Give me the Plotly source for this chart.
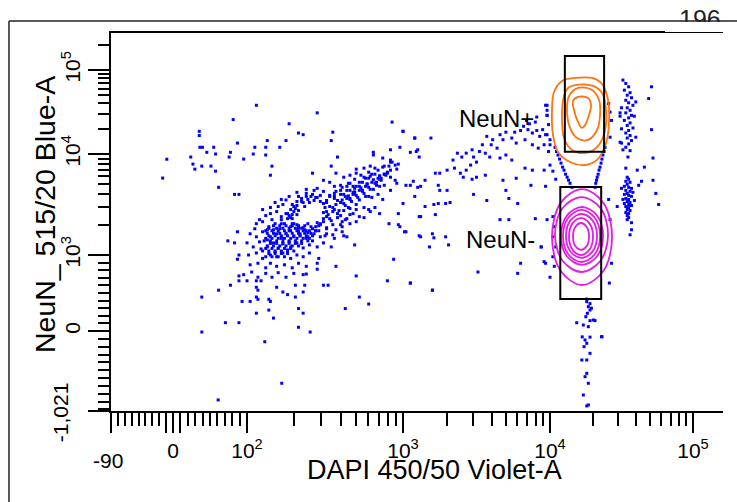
import numpy as np
import plotly.graph_objects as go

# ---------------- data (DAPI, NeuN) as log10 intensity pairs ----------------
sparse_upper = [(2.06,4.58),(2.45,4.49),(1.91,4.41),(2.27,4.36),(2.93,4.38),(1.55,4.27),(1.55,4.22),(2.36,4.23),
    (2.33,4.25),(2.55,4.26),(3.00,4.27),(1.94,4.13),(2.13,4.16),(2.25,4.16),(2.54,4.16),(3.08,4.19),(1.56,4.08),
    (1.60,4.08),(1.74,4.08),(2.05,4.08),(2.12,4.08),(2.21,4.08),(1.66,4.02),(1.76,4.00),(1.89,4.02),(1.88,3.97),
    (2.04,4.00),(2.12,3.99),(1.98,3.95),(1.38,3.97),(1.43,3.90),(1.47,3.85),(1.59,3.88),(1.71,3.88),(1.76,3.83),
    (2.16,3.88),(2.58,3.97),(2.81,4.02),(2.15,3.79),(2.42,3.81),(2.54,3.88),(1.79,3.67),(1.92,3.60),(1.95,3.60),
    (2.92,4.05),(2.98,4.08),(3.05,4.02),(3.10,4.05),(3.11,3.97),(3.05,3.69),(3.10,3.67),(3.08,3.58),(3.00,3.51),
    (2.97,3.41),(3.11,3.38),(2.91,3.31),(2.97,3.30),(3.01,3.23),(3.11,3.19),(2.94,2.975),(2.90,2.82),(3.05,2.80)]

sparse_lower = [(1.94,3.23),(1.87,3.14),(1.92,3.12),(1.95,3.00),(1.94,2.975),(1.79,2.73),(1.89,2.78),(1.59,2.65),
    (1.85,2.04),(1.95,2.04),(2.06,2.37),(2.17,2.23),(2.14,2.44),(2.33,2.47),(2.33,1.69),(2.36,2.37),(2.63,2.47),
    (2.78,2.55),(2.72,2.65),(2.70,2.86),(2.49,2.78),(2.52,2.78),(2.31,2.65),(2.26,2.68),(2.23,2.71),(2.36,2.71),
    (2.31,2.78),(2.37,2.78),(2.19,2.76),(2.14,2.62),(2.15,2.59),(2.06,2.65),(2.07,2.62),(2.02,2.59),(1.97,2.59),
    (2.07,2.73),(2.06,2.76),(2.00,2.82),(1.95,2.82),(1.95,2.86),(2.06,2.82),(2.09,2.82),(2.38,2.875),(2.45,2.91),
    (2.57,2.93),(2.69,3.10),(2.64,3.18),(2.61,3.23),(2.70,3.33),(2.75,3.37),(2.79,3.43),(2.82,3.47),(2.85,3.41),
    (2.87,3.55),(2.78,3.58),(3.20,2.73)]

main_cluster = [(2.81,3.99),(2.87,3.96),(2.92,3.94),(2.93,3.92),(2.97,3.90),
    (2.70,3.85),(2.75,3.86),(2.79,3.88),(2.87,3.87),(2.91,3.88),(2.96,3.85),
    (2.57,3.81),(2.62,3.77),(2.66,3.79),(2.70,3.81),(2.75,3.77),(2.79,3.78),(2.85,3.75),(2.90,3.81),(2.92,3.77),(2.95,3.74),
    (2.49,3.74),(2.53,3.72),(2.56,3.68),(2.60,3.69),(2.64,3.68),(2.66,3.71),(2.69,3.66),(2.72,3.68),(2.77,3.70),
    (2.81,3.65),(2.85,3.68),(2.88,3.69),(2.92,3.64),(2.96,3.71),
    (2.38,3.61),(2.43,3.64),(2.47,3.59),(2.49,3.63),(2.53,3.58),(2.56,3.61),(2.60,3.64),(2.63,3.58),(2.66,3.56),
    (2.69,3.61),(2.72,3.545),(2.76,3.58),(2.80,3.57),(2.84,3.60),
    (2.25,3.545),(2.29,3.50),(2.32,3.53),(2.35,3.56),(2.49,3.51),(2.53,3.48),(2.57,3.50),(2.62,3.51),(2.66,3.46),
    (2.70,3.50),(2.75,3.47),(2.78,3.45),
    (2.10,3.45),(2.15,3.41),(2.19,3.43),(2.22,3.38),(2.25,3.41),(2.29,3.36),(2.32,3.40),(2.49,3.42),(2.51,3.38),
    (2.55,3.43),(2.60,3.39),(2.64,3.36),(2.68,3.41),(2.72,3.38),
    (2.06,3.31),(2.10,3.33),(2.14,3.28),(2.18,3.31),(2.21,3.26),(2.24,3.31),(2.28,3.28),(2.32,3.30),(2.36,3.27),
    (2.39,3.31),(2.44,3.28),(2.47,3.31),(2.51,3.26),(2.55,3.30),(2.61,3.28),(2.66,3.31),
    (2.02,3.21),(2.06,3.18),(2.10,3.23),(2.15,3.18),(2.19,3.21),(2.22,3.165),(2.25,3.21),(2.30,3.18),(2.34,3.21),
    (2.38,3.165),(2.43,3.21),(2.47,3.18),(2.51,3.21),(2.56,3.165),(2.62,3.19),
    (2.00,3.12),(2.04,3.08),(2.08,3.13),(2.13,3.08),(2.17,3.12),(2.20,3.07),(2.23,3.11),(2.28,3.08),(2.32,3.12),
    (2.36,3.07),(2.40,3.10),(2.45,3.08),(2.49,3.12),(2.54,3.08),
    (2.01,3.00),(2.06,3.02),(2.10,2.98),(2.15,3.00),(2.19,2.99),(2.23,3.02),(2.28,2.98),(2.32,3.00),(2.36,2.99),
    (2.40,3.02),(2.46,2.98),
    (2.02,2.94),(2.07,2.95),(2.12,2.92),(2.15,2.95),(2.19,2.93),(2.24,2.94),(2.29,2.92),(2.33,2.95),(2.38,2.93),(2.45,2.95),
    (1.98,2.87),(2.03,2.89),(2.07,2.85),(2.12,2.88),(2.16,2.85),(2.20,2.885),(2.25,2.85),(2.30,2.88),(2.36,2.87),
    (2.30,3.48),(2.33,3.58),(2.38,3.58),(2.45,3.57),(2.51,3.54),(2.55,3.47),(2.54,3.34),(2.51,3.27),(2.46,3.24),
    (2.39,3.22),(2.33,3.24),(2.29,3.31),(2.27,3.39),(2.28,3.45),
    (2.23,3.50),(2.20,3.48),(2.16,3.35),(2.13,3.25),(2.17,3.25),(2.13,3.15),(2.09,3.06),(2.18,3.03),(2.27,3.13),
    (2.42,3.60),(2.58,3.54),(2.68,3.62),(2.74,3.64),(2.83,3.72),(2.88,3.80),(2.59,3.44),(2.61,3.33),(2.42,3.14),(2.26,3.05)]

# denser core of the main population (lower-left lobe, ring round the hollow, upper-right arm)
main_core = [(2.17,3.29),(2.21,3.29),(2.25,3.29),(2.29,3.29),(2.33,3.29),(2.37,3.29),
    (2.12,3.24),(2.16,3.24),(2.20,3.24),(2.24,3.24),(2.28,3.24),(2.32,3.24),(2.36,3.24),(2.40,3.24),(2.44,3.24),
    (2.14,3.19),(2.18,3.19),(2.22,3.19),(2.26,3.19),(2.30,3.19),(2.34,3.19),(2.38,3.19),(2.42,3.19),
    (2.11,3.14),(2.15,3.14),(2.19,3.14),(2.23,3.14),(2.27,3.14),(2.31,3.14),(2.35,3.14),(2.39,3.14),
    (2.13,3.09),(2.17,3.09),(2.21,3.09),(2.25,3.09),(2.29,3.09),(2.33,3.09),
    (2.10,3.04),(2.14,3.04),(2.18,3.04),(2.22,3.04),(2.26,3.04),(2.30,3.04),
    (2.12,2.99),(2.16,2.99),(2.20,2.99),(2.24,2.99),
    (2.51,3.52),(2.27,3.24),(2.33,3.44),(2.45,3.32),(2.40,3.52),(2.52,3.40),(2.26,3.36),(2.38,3.24),
    (2.37,3.48),(2.49,3.36),(2.29,3.40),(2.41,3.28),(2.44,3.57),(2.56,3.45),(2.22,3.31),(2.34,3.19),
    (2.56,3.58),(2.22,3.18),(2.31,3.46),(2.47,3.30),(2.41,3.58),(2.58,3.41),(2.22,3.35),(2.39,3.18),
    (2.36,3.52),(2.53,3.36),(2.26,3.41),(2.44,3.24),
    (2.63,3.49),(2.60,3.52),(2.56,3.56),(2.53,3.59),(2.67,3.53),(2.64,3.56),(2.60,3.60),(2.57,3.63),
    (2.71,3.57),(2.68,3.60),(2.64,3.64),(2.61,3.67),(2.75,3.61),(2.72,3.64),(2.68,3.68),(2.65,3.71),
    (2.79,3.65),(2.76,3.68),(2.72,3.72),(2.69,3.75),(2.83,3.69),(2.80,3.72),(2.76,3.76),(2.73,3.79),
    (2.86,3.74),(2.84,3.76),(2.80,3.80),(2.78,3.82),(2.89,3.79),(2.88,3.80),(2.84,3.84),(2.82,3.86),
    (2.92,3.84),(2.88,3.88),(2.95,3.89),(2.92,3.92),
    (2.57,3.25),(2.60,3.30),(2.63,3.35),(2.66,3.40),(2.62,3.44),(2.58,3.37),(2.65,3.47),(2.70,3.45),(2.55,3.20),(2.50,3.19),
    (2.15,3.47),(2.18,3.52),(2.22,3.55),(2.27,3.58),(2.32,3.62),(2.38,3.65),(2.45,3.66),(2.12,3.39),(2.08,3.35),(2.05,3.26),
    (2.14,3.265),(2.19,3.265),(2.23,3.265),(2.27,3.265),(2.31,3.265),(2.35,3.265),
    (2.13,3.215),(2.17,3.215),(2.21,3.215),(2.25,3.215),(2.29,3.215),(2.33,3.215),(2.37,3.215),(2.41,3.215),
    (2.12,3.165),(2.16,3.165),(2.20,3.165),(2.24,3.165),(2.28,3.165),(2.32,3.165),(2.36,3.165),(2.40,3.165),
    (2.15,3.115),(2.19,3.115),(2.23,3.115),(2.27,3.115),(2.31,3.115),(2.35,3.115),
    (2.12,3.065),(2.16,3.065),(2.20,3.065),(2.24,3.065),(2.28,3.065),
    (2.14,3.015),(2.18,3.015),(2.22,3.015),(2.26,3.015),
    (2.61,3.545),(2.65,3.585),(2.69,3.625),(2.73,3.665),(2.77,3.705),(2.81,3.745),(2.85,3.785),(2.62,3.60),
    (2.66,3.64),(2.70,3.68),(2.74,3.72),(2.78,3.76),(2.82,3.80),(2.66,3.55),(2.70,3.59),(2.74,3.63),(2.78,3.67),
    (2.82,3.71),(2.86,3.76),(2.90,3.82),
    (2.30,3.43),(2.32,3.49),(2.35,3.53),(2.39,3.55),(2.43,3.54),(2.47,3.53),(2.50,3.47),(2.51,3.43),(2.49,3.33),
    (2.46,3.29),(2.42,3.26),(2.37,3.25),(2.33,3.27),(2.30,3.31),(2.28,3.37)]

bridge = [(3.98,4.58),(3.98,4.52),(3.98,4.46),(3.91,4.44),(3.90,4.38),(3.84,4.40),(3.86,4.36),(3.82,4.33),(3.85,4.29),
    (3.88,4.25),(3.80,4.28),(3.76,4.26),(3.91,4.28),(3.95,4.29),(3.93,4.21),(3.98,4.23),(4.00,4.17),(3.66,4.23),
    (3.70,4.26),(3.68,4.17),(3.74,4.19),(3.77,4.13),(3.83,4.17),(3.88,4.11),(3.92,4.07),(3.96,4.11),(3.99,4.03),
    (3.61,4.17),(3.57,4.21),(3.60,4.11),(3.64,4.07),(3.54,4.11),(3.52,4.03),(3.56,4.01),(3.59,3.97),(3.66,3.96),
    (3.70,3.99),(3.74,3.94),(3.47,4.05),(3.48,3.97),(3.50,3.92),(3.46,3.89),(3.43,4.01),(3.40,3.97),(3.37,4.01),
    (3.34,3.94),(3.35,3.86),(3.39,3.81),(3.41,3.77),(3.43,3.84),(3.47,3.75),(3.50,3.77),(3.56,3.79),(3.30,3.84),
    (3.25,3.81),(3.22,3.81),(3.15,3.74),(3.12,3.68),(3.07,3.73),(3.02,3.69),(3.24,3.69),(3.25,3.64),(3.30,3.64),
    (3.15,3.48),(3.21,3.50),(3.24,3.51),(3.29,3.51),(3.32,3.52),(3.22,3.40),(3.12,3.38),(3.20,3.21),(3.21,3.17),
    (3.29,3.18),(3.12,3.18),(3.02,3.23),(3.31,3.10),(3.18,3.08),(2.98,3.28),(3.08,4.19),(3.19,4.19),(3.00,4.27),
    (3.09,4.03),(3.68,3.74),(3.77,3.76),(3.83,3.86),(3.88,3.84),(3.96,3.84),(4.02,3.83),(4.00,3.89),(3.70,3.64),
    (3.87,3.69),(3.97,3.68),(4.04,3.75),(3.48,3.60),(3.57,3.54),(3.72,3.56),(3.78,3.51),(3.66,3.35),(3.72,3.35),
    (3.90,3.36),(3.98,3.35),(3.94,3.08),(3.80,2.95),(3.78,2.88),(3.96,2.96),(4.03,2.93),(3.51,2.89),(3.05,2.80),
    (3.20,2.73),(4.02,3.38),(4.03,3.28),(4.02,3.18),(4.04,3.08),(4.02,2.99),
    (4.035,4.08),(4.045,4.03),(4.056,3.99),(4.067,3.95),(4.077,3.91),(4.088,3.87),(4.098,3.84),(4.109,3.80),
    (4.12,3.77),(4.13,3.74),(4.14,3.71),(4.154,3.67),
    (4.385,4.08),(4.378,4.03),(4.37,3.99),(4.363,3.95),(4.357,3.91),(4.35,3.87),(4.343,3.84),(4.337,3.80),
    (4.33,3.77),(4.325,3.74),(4.32,3.71),(4.315,3.67),
    (3.97,4.58),(3.98,4.46),(3.99,4.35),(3.97,4.23),(4.00,4.11),(4.41,4.60),(4.42,4.50),(4.43,4.40),(4.42,4.20),
    (3.94,3.08),(3.97,2.95),(4.00,2.85),(4.41,3.55),(4.42,3.35),(4.43,2.95),(4.415,2.80)]

right_column = [(4.51,4.88),(4.53,4.84),(4.55,4.80),(4.52,4.76),(4.56,4.73),(4.54,4.70),(4.57,4.67),(4.53,4.64),
    (4.55,4.61),(4.58,4.58),(4.54,4.55),(4.56,4.52),(4.53,4.49),(4.57,4.46),(4.55,4.43),(4.52,4.40),(4.56,4.37),
    (4.54,4.34),(4.58,4.31),(4.55,4.28),(4.53,4.25),(4.56,4.22),(4.54,4.19),(4.57,4.16),(4.55,4.12),(4.53,4.08),
    (4.56,4.04),(4.60,4.62),(4.50,4.55),(4.59,4.45),(4.50,4.30),(4.60,4.20),(4.49,4.14),
    (4.71,4.80),(4.69,4.66),(4.71,4.29),(4.72,3.96),(4.66,3.87),(4.72,3.74),(4.74,3.61),(4.76,3.50),(4.64,3.73),
    (4.62,3.69),(4.47,3.48),(4.49,4.49),(4.49,4.45),(4.50,4.13),(4.51,4.05),(4.545,3.97),(4.61,3.84),(4.53,3.86),
    (4.57,3.25),(4.56,3.20),(4.57,3.32),
    (4.54,3.77),(4.55,3.75),(4.53,3.73),(4.56,3.72),(4.54,3.70),(4.52,3.68),(4.55,3.67),(4.57,3.66),(4.53,3.64),
    (4.56,3.63),(4.54,3.61),(4.52,3.60),(4.55,3.59),(4.57,3.58),(4.53,3.56),(4.55,3.55),(4.54,3.53),(4.56,3.52),
    (4.52,3.51),(4.55,3.50),(4.57,3.49),(4.53,3.48),(4.55,3.47),(4.54,3.45),(4.56,3.44),(4.53,3.42),(4.55,3.41),
    (4.54,3.39),(4.55,3.37),(4.54,3.35),(4.51,3.55),(4.58,3.62),(4.50,3.66),(4.59,3.54)]

# events near / below zero, raw intensity (DAPI, NeuN)
raw_events = [(-9,8870),(-15,5780),(39,-13),(254,-13),(130,-137),(167,-667),(61,-880),
    (18070,386),(18540,320),(19050,276),(18240,233),(17800,188),(15380,109),(17100,79),(18540,57),(19050,136),
    (20090,145),(22900,-73),(17580,-115),(18070,-157),(16800,-75),(19050,-78),(17300,-200),(19050,-285),
    (16700,-370),(18070,-370),(18070,-540),(17580,-583),(18540,-667),(17100,-817),(18540,-944),(18070,-956),
    (18070,420),(19050,360),(19500,300),(23100,-73),(20650,137)]

# contour rings (log10 DAPI, log10 NeuN)
neun_pos_contours = [
    ([4.175,4.294,4.364,4.406,4.413,4.392,4.329,4.245,4.140,4.056,4.021,4.014,4.028,4.084],
     [4.905,4.905,4.833,4.643,4.381,4.131,3.941,3.891,3.921,4.024,4.226,4.524,4.738,4.869]),
    ([4.175,4.301,4.364,4.392,4.385,4.336,4.245,4.154,4.098,4.084,4.098,4.126],
     [4.821,4.810,4.726,4.524,4.286,4.095,4.012,4.048,4.190,4.464,4.690,4.786]),
    ([4.196,4.294,4.343,4.350,4.329,4.266,4.189,4.140,4.119,4.133],
     [4.786,4.762,4.643,4.464,4.286,4.167,4.190,4.310,4.524,4.690]),
    ([4.196,4.266,4.287,4.273,4.245,4.224,4.196,4.168,4.161],
     [4.679,4.667,4.583,4.464,4.345,4.310,4.381,4.524,4.631]),
]
neun_neg_contours = [
    ([4.224,4.373,4.434,4.373,4.224,4.075,4.014,4.075],[3.653,3.516,3.178,2.897,2.782,2.897,3.178,3.516]),
    ([4.220,4.352,4.406,4.352,4.220,4.089,4.035,4.089],[3.574,3.466,3.203,2.964,2.890,2.964,3.203,3.466]),
    ([4.224,4.328,4.371,4.328,4.224,4.120,4.077,4.120],[3.475,3.392,3.188,2.991,2.939,2.991,3.188,3.392]),
    ([4.220,4.312,4.350,4.312,4.220,4.129,4.091,4.129],[3.446,3.371,3.188,3.005,2.958,3.005,3.188,3.371]),
    ([4.220,4.297,4.329,4.297,4.220,4.143,4.112,4.143],[3.406,3.343,3.188,3.034,2.983,3.034,3.188,3.343]),
    ([4.217,4.276,4.301,4.276,4.217,4.157,4.133,4.157],[3.366,3.313,3.183,3.053,3.000,3.053,3.183,3.313]),
    ([4.217,4.257,4.273,4.257,4.217,4.177,4.161,4.177],[3.317,3.278,3.183,3.088,3.050,3.088,3.183,3.278]),
]

# gates (raw intensity)
gate_neun_pos = dict(x0=12700, x1=23900, y0=10600, y1=147000)
gate_neun_neg = dict(x0=11800, x1=22800, y0=420, y1=4700)
gate_labels = [("NeuN+", 4350, 26800), ("NeuN-", 4640, 1440)]

x_major = [-90, -10, 0, 10, 100, 1000, 10000, 100000]
x_major_text = ["", "", "0", "", "10<sup>2</sup>", "10<sup>3</sup>", "10<sup>4</sup>", "10<sup>5</sup>"]
x_minor = ([-80, -70, -60, -50, -40, -30, -20] + [20, 30, 40, 50, 60, 70, 80, 90]
           + [200, 300, 400, 500, 600, 700, 800, 900]
           + [2000, 3000, 4000, 5000, 6000, 7000, 8000, 9000]
           + [20000, 30000, 40000, 50000, 60000, 70000, 80000, 90000])
y_major = [-1021, 0, 1000, 10000, 100000]
y_major_text = ["", "0", "10<sup>3</sup>", "10<sup>4</sup>", "10<sup>5</sup>"]
y_minor = ([-1000, -900, -800, -700, -600, -500, -400, -300, -200, -100]
           + [100, 200, 300, 400, 500, 600, 700, 800, 900]
           + [2000, 3000, 4000, 5000, 6000, 7000, 8000, 9000]
           + [20000, 30000, 40000, 50000, 60000, 70000, 80000, 90000, 200000])

# ---------------- biexponential-style display scales ----------------
X_LIN_V, X_LIN_D = [-90, 0, 100], [0, 62, 136]
X_LOG_V, X_LOG_D = [2, 3, 4, 5, 5.5], [136, 292, 439, 582, 653.5]
Y_LIN_V, Y_LIN_D = [-1021, 0, 1000], [0, 80, 156]
Y_LOG_V, Y_LOG_D = [3, 4, 5, 5.5], [156, 257, 341, 383]
X_RANGE, Y_RANGE = [0, 612], [0, 378]


def tx(v):
    v = np.asarray(v, dtype=float)
    lg = np.interp(np.log10(np.clip(v, 1e-9, None)), X_LOG_V, X_LOG_D)
    return np.where(v >= 100, lg, np.interp(v, X_LIN_V, X_LIN_D))


def ty(v):
    v = np.asarray(v, dtype=float)
    lg = np.interp(np.log10(np.clip(v, 1e-9, None)), Y_LOG_V, Y_LOG_D)
    return np.where(v >= 1000, lg, np.interp(v, Y_LIN_V, Y_LIN_D))


log_events = np.array(sparse_upper + sparse_lower + main_cluster + main_core + bridge + right_column)
dapi = np.concatenate([10 ** log_events[:, 0], np.array(raw_events)[:, 0]])
neun = np.concatenate([10 ** log_events[:, 1], np.array(raw_events)[:, 1]])

fig = go.Figure()
fig.add_trace(go.Scatter(x=tx(dapi), y=ty(neun), mode="markers",
                         marker=dict(color="#0000ff", size=3, symbol="square", line=dict(width=0)),
                         hoverinfo="skip", showlegend=False))

for cx, cy in neun_pos_contours:
    xs = 10 ** np.array(cx + cx[:1]); ys = 10 ** np.array(cy + cy[:1])
    fig.add_trace(go.Scatter(x=tx(xs), y=ty(ys), mode="lines",
                             line=dict(color="#ff7410", width=1.8, shape="spline", smoothing=1.0),
                             hoverinfo="skip", showlegend=False))
for cx, cy in neun_neg_contours:
    xs = 10 ** np.array(cx + cx[:1]); ys = 10 ** np.array(cy + cy[:1])
    fig.add_trace(go.Scatter(x=tx(xs), y=ty(ys), mode="lines",
                             line=dict(color="#e21ee2", width=1.8, shape="spline", smoothing=1.0),
                             hoverinfo="skip", showlegend=False))

shapes = []
for g in (gate_neun_pos, gate_neun_neg):
    shapes.append(dict(type="rect", xref="x", yref="y",
                       x0=float(tx(g["x0"])), x1=float(tx(g["x1"])),
                       y0=float(ty(g["y0"])), y1=float(ty(g["y1"])),
                       line=dict(color="black", width=2), layer="above"))
shapes += [
    dict(type="line", xref="paper", yref="paper", x0=-0.1667, x1=1.03, y0=1.0317, y1=1.0317,
         line=dict(color="#222", width=1.5)),
    dict(type="line", xref="paper", yref="paper", x0=-0.1667, x1=-0.1667, y0=1.0317, y1=-0.25,
         line=dict(color="#222", width=1.5)),
]

FONT = "Liberation Sans, Arial, Helvetica, sans-serif"
ann = []
for text, lx, ly in gate_labels:
    ann.append(dict(x=float(tx(lx)), y=float(ty(ly)), xref="x", yref="y", text=text, showarrow=False,
                    xanchor="center", yanchor="middle", font=dict(family=FONT, size=24, color="black")))
ann += [
    dict(x=-0.0049, y=-0.132, xref="paper", yref="paper", text="-90", showarrow=False,
         xanchor="center", yanchor="middle", font=dict(family=FONT, size=21, color="black")),
    dict(x=-0.0833, y=-0.003, xref="paper", yref="paper", text="-1,021", showarrow=False, textangle=-90,
         xanchor="center", yanchor="middle", font=dict(family=FONT, size=21, color="black")),
    dict(x=0.5286, y=-0.156, xref="paper", yref="paper", text="DAPI 450/50 Violet-A", showarrow=False,
         xanchor="center", yanchor="middle", font=dict(family=FONT, size=27, color="black")),
    dict(x=-0.1078, y=0.5185, xref="paper", yref="paper", text="NeuN_ 515/20 Blue-A", showarrow=False,
         textangle=-90, xanchor="center", yanchor="middle", font=dict(family=FONT, size=28.5, color="black")),
    dict(x=0.9624, y=1.079, xref="paper", yref="paper", text="196", showarrow=False,
         xanchor="center", yanchor="top", font=dict(family=FONT, size=25, color="#222")),
    dict(x=0.9624, y=1.016, xref="paper", yref="paper", text=" ", showarrow=False, width=70, height=10,
         xanchor="center", yanchor="middle", bgcolor="white", borderpad=0, borderwidth=0),
]

axis_common = dict(showgrid=False, zeroline=False, showline=True, linecolor="black", linewidth=2,
                   ticks="outside", tickcolor="black", tickwidth=2, tickmode="array", automargin=False,
                   tickfont=dict(family=FONT, size=21, color="black"))

fig.update_layout(
    width=737, height=502, autosize=False,
    margin=dict(l=111, r=14, t=33, b=91),
    plot_bgcolor="white", paper_bgcolor="white",
    xaxis=dict(range=X_RANGE, tickvals=tx(x_major).tolist(), ticktext=x_major_text, ticklen=20,
               mirror=True,
               minor=dict(tickmode="array", tickvals=tx(x_minor).tolist(), ticks="outside", ticklen=13,
                          tickwidth=2, tickcolor="black", showgrid=False),
               **axis_common),
    yaxis=dict(range=Y_RANGE, tickvals=ty(y_major).tolist(), ticktext=y_major_text, ticklen=21,
               tickangle=-90,
               minor=dict(tickmode="array", tickvals=ty(y_minor).tolist(), ticks="outside", ticklen=11,
                          tickwidth=2, tickcolor="black", showgrid=False),
               **axis_common),
    annotations=ann,
    shapes=shapes,
)

fig.write_html("out.html", config={"displayModeBar": False},
               post_script="document.body.style.margin='0px';")
